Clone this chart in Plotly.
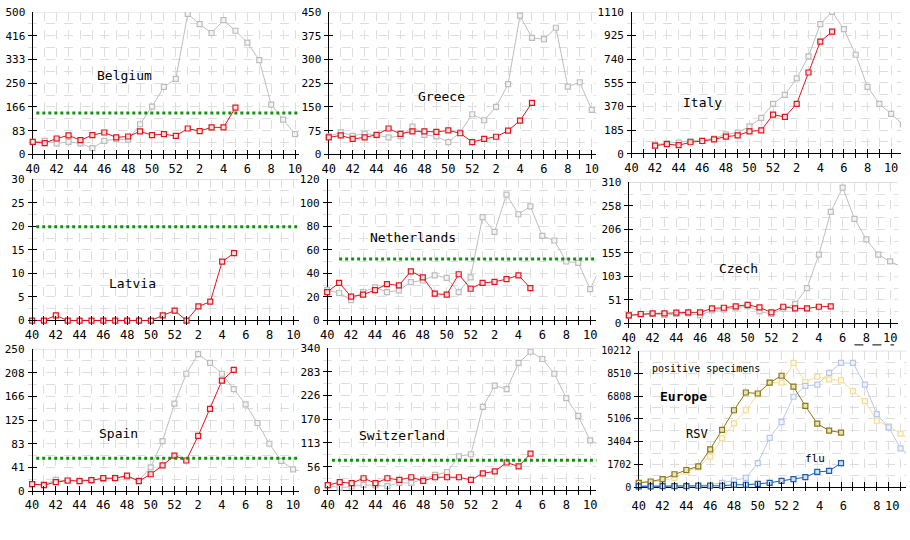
import plotly.graph_objects as go

W, H = 910, 540
MONO = "DejaVu Sans Mono"

# weeks 40..52 then 1..10 (index 0..22), previous season runs one week further
weeks = list(range(40, 53)) + list(range(1, 11))
x_labels = [str(w) if w % 2 == 0 else "" for w in weeks]
# the Europe panel prints its labels slightly off the week ticks
europe_x_labels = ["40", "42", "44", "46", "48", "50", "52", "2", "4", "6", "8", "10"]
europe_x_pos = [0, 2, 4, 6, 8, 10, 12, 13.2, 15.2, 17.2, 20, 21.3]

belgium_prev = [44, 48, 39, 44, 39, 22, 48, 54, 52, 106, 168, 237, 265, 493, 457, 426,
                471, 434, 392, 331, 175, 122, 71, 54]
belgium_cur = [44, 40, 56, 67, 50, 68, 77, 60, 63, 81, 68, 71, 65, 91, 82, 95, 95, 164]
belgium_thr = 145
belgium_ticks = ["0", "83", "166", "250", "333", "416", "500"]

greece_prev = [57, 70, 59, 66, 61, 54, 58, 88, 62, 57, 39, 70, 127, 108, 150, 222, 438,
               368, 364, 400, 214, 228, 141, 111]
greece_cur = [54, 60, 49, 54, 62, 82, 65, 73, 73, 71, 76, 67, 39, 49, 56, 75, 107, 163]
greece_ticks = ["0", "75", "150", "225", "300", "375", "450"]

italy_prev = [None, None, 72, 82, 88, 100, 106, 119, 152, 165, 214, 281, 391, 461, 590,
              762, 1015, 1110, 976, 775, 523, 391, 312, 229]
italy_cur = [None, None, 64, 75, 67, 90, 100, 113, 134, 144, 175, 183, 307, 288, 391,
             636, 878, 955]
italy_ticks = ["0", "185", "370", "555", "740", "925", "1110"]

latvia_cur = [0, 0, 1.1, 0, 0, 0, 0, 0, 0, 0, 0, 1.1, 2.1, 0, 3.0, 4.0, 12.5, 14.3]
latvia_thr = 19.9
latvia_ticks = ["0", "5", "10", "15", "20", "25", "30"]

netherlands_prev = [25.9, 23.4, 17.3, 24.2, 28.1, 24.2, 25.6, 32.6, 34, 38.4, 36.2, 24.2,
                    36.7, 87.7, 75.2, 106.9, 90.2, 96.9, 71.8, 67.9, 50.1, 49, 26.7, 48]
netherlands_cur = [24.2, 32, 20.3, 22, 25.9, 30.9, 29.8, 41.8, 36.7, 22.8, 22, 39.3, 27,
                   32, 32.9, 35.1, 38.4, 27.6]
netherlands_thr = 52.3
netherlands_ticks = ["0", "20", "40", "60", "80", "100", "120"]

czech_prev = [18, 19.5, 20.9, 18.7, 20.9, 22.4, 18, 28.8, 31, 34.6, 38.2, 26.7, 20.9,
              32.4, 43.3, 77.9, 151.4, 245.1, 298.5, 230, 184.6, 151.4, 136.3, 124]
czech_cur = [18, 20.9, 22.4, 22.4, 23.8, 24.5, 24.5, 33.2, 34.6, 37.5, 41.1, 35.3, 24.5,
             36.8, 33.2, 33.2, 36.8, 37.5]
czech_ticks = ["0", "51", "103", "155", "206", "258", "310"]

spain_prev = [12.2, 11.6, 19.7, 17.9, 18.5, 18.5, 20.8, 23.1, 24.3, 18.5, 41.7, 88,
              153.9, 206.6, 241.3, 225.7, 206.6, 179.4, 152.8, 119.8, 83.3, 53.2, 38.2, 33]
spain_cur = [12.2, 10.4, 15.6, 18.5, 17.4, 19.1, 22.6, 22.6, 27.2, 17.4, 29.5, 45.1,
             62.5, 53.8, 97.2, 144.7, 194.4, 213.5]
spain_thr = 57.9
spain_ticks = ["0", "41", "83", "125", "166", "208", "250"]

switz_prev = [11.8, 6.3, 9.4, 13.3, 11.8, 10.2, 18.1, 18.1, 26.7, 36.9, 44, 81.7, 86.4,
              199.5, 250.5, 241.9, 304.7, 331.4, 314.1, 278.8, 220.7, 178.3, 119.4, 106]
switz_cur = [12.6, 19.6, 17.3, 29.1, 17.3, 29.1, 25.1, 31.4, 22.8, 31.4, 31.4, 31.4,
             25.1, 40.8, 45.5, 66.7, 57.3, 87.9]
switz_thr = 72.2
switz_ticks = ["0", "56", "113", "170", "226", "283", "340"]

rsv_prev = [320, 369, 468, 689, 1157, 1476, 2288, 3642, 4774, 5758, 6939, 7825, 7825,
            9301, 7874, 8268, 8071, 7997, 7185, 6447, 4970, 4552, 4011, 3445]
rsv_cur = [320, 418, 591, 960, 1280, 1550, 2830, 4281, 5758, 7087, 7013, 7825, 8342,
           7530, 6078, 4749, 4232, 4085]
flu_prev = [98, 98, 98, 98, 98, 123, 172, 320, 492, 689, 1796, 3691, 4872, 6767, 7579,
            7677, 8563, 9301, 9301, 7677, 5463, 4478, 2904, 2200]
flu_cur = [49, 49, 74, 74, 74, 98, 98, 98, 172, 172, 246, 320, 468, 591, 738, 1132,
           1206, 1796]
europe_ticks = ["0", "1702", "3404", "5106", "6808", "8510", "10212"]

# styles: (line colour, marker fill)
GRAY = ("#bdbdbd", "#f4f4f4")
RED = ("#e0141e", "#ffe2e2")
OLIVE = ("#8a7816", "#e9e2b8")
YELLOW = ("#f5dc94", "#fffaea")
BLUE = ("#1f5cad", "#d2e0f4")
LBLUE = ("#b7c7ec", "#f1f4fc")

# panel: series list, threshold, threshold start index, y tick labels
panels = [
    ([(belgium_prev, GRAY), (belgium_cur, RED)], belgium_thr, 0.3, belgium_ticks),
    ([(greece_prev, GRAY), (greece_cur, RED)], None, 0, greece_ticks),
    ([(italy_prev, GRAY), (italy_cur, RED)], None, 0, italy_ticks),
    ([(latvia_cur, RED)], latvia_thr, 0.35, latvia_ticks),
    ([(netherlands_prev, GRAY), (netherlands_cur, RED)], netherlands_thr, 1.0,
     netherlands_ticks),
    ([(czech_prev, GRAY), (czech_cur, RED)], None, 0, czech_ticks),
    ([(spain_prev, GRAY), (spain_cur, RED)], spain_thr, 0.35, spain_ticks),
    ([(switz_prev, GRAY), (switz_cur, RED)], switz_thr, 0.35, switz_ticks),
    ([(rsv_prev, YELLOW), (flu_prev, LBLUE), (rsv_cur, OLIVE), (flu_cur, BLUE)], None, 0,
     europe_ticks),
]

# pixel boxes: x of week 40, x of week 10, right edge, top, x-axis line
boxes = [
    (30, 294.3, 298, 6, 150.7),
    (328.3, 593.3, 598, 6, 150.7),
    (633.3, 895, 905, 6, 150),
    (29.3, 292.7, 298, 175.7, 319.3),
    (326.7, 591.7, 598, 175.7, 319.3),
    (630.7, 894, 901.7, 179, 322.3),
    (29.3, 292.3, 298, 348.3, 492.3),
    (327.3, 591.7, 598, 347.3, 491.7),
    (640.7, 904.5, 910, 350, 488.3),
]

PAD = 4.5  # ticks cross the axis lines
fig = go.Figure()
shapes = []
xfont = dict(family=MONO, size=12, color="black")

for k, ((series, thr, thr_start, yticks), (x0, x22, xr, ytop, ybot)) in enumerate(
        zip(panels, boxes), start=1):
    sfx = "" if k == 1 else str(k)
    s = (x22 - x0) / 22
    top = float(yticks[-1])
    u = (ybot - ytop) / top
    europe = k == 9

    for vals, (lc, fc) in series:
        fig.add_trace(go.Scatter(
            x=list(range(len(vals))), y=vals,
            mode="lines+markers",
            line=dict(color=lc, width=1),
            marker=dict(symbol="square", size=5, color=fc, line=dict(color=lc, width=1.2)),
            xaxis="x" + sfx, yaxis="y" + sfx,
            showlegend=False, hoverinfo="skip",
        ))

    xdomain = [(x0 - PAD) / W, xr / W]
    xrange_ = [-PAD / s, (xr - x0) / s]
    fig.layout["xaxis" + sfx] = dict(
        domain=xdomain, range=xrange_,
        tickmode="array", tickvals=list(range(23)), ticktext=x_labels, tickangle=0,
        showticklabels=not europe,
        ticks="inside", ticklen=9, tickwidth=1, tickcolor="black",
        showline=False, zeroline=True, zerolinecolor="black", zerolinewidth=1,
        showgrid=True, gridcolor="#dddddd", griddash="dash", gridwidth=1,
        tickfont=xfont, ticklabeloverflow="allow",
        ticklabelstandoff=1, anchor="y" + sfx, fixedrange=True,
    )
    fig.layout["yaxis" + sfx] = dict(
        domain=[1 - (ybot + PAD) / H, 1 - ytop / H],
        range=[-PAD / u, top],
        tickmode="array", tickvals=[top * i / 6 for i in range(7)], ticktext=yticks,
        ticks="inside", ticklen=9, tickwidth=1, tickcolor="black",
        showline=False, zeroline=True, zerolinecolor="black", zerolinewidth=1,
        showgrid=True, gridcolor="#dddddd", griddash="dash", gridwidth=1,
        minor=dict(tickmode="linear", tick0=0, dtick=top / 12, showgrid=True,
                   gridcolor="#dddddd", griddash="dash", ticks=""),
        tickfont=dict(family=MONO, size=10 if europe else 11, color="black"),
        ticklabelstandoff=2, anchor="x" + sfx, fixedrange=True,
    )

    if europe:
        # label-only axis laid over the Europe panel
        fig.add_trace(go.Scatter(x=[], y=[], xaxis="x10", yaxis="y" + sfx,
                                 showlegend=False, hoverinfo="skip"))
        fig.layout["xaxis10"] = dict(
            domain=xdomain, range=xrange_, overlaying="x" + sfx, anchor="y" + sfx,
            tickmode="array", tickvals=europe_x_pos, ticktext=europe_x_labels,
            tickangle=0, ticks="", showgrid=False, zeroline=False, showline=False,
            tickfont=xfont, ticklabeloverflow="allow", ticklabelstandoff=6,
            fixedrange=True,
        )

    span = xr - x0 + PAD
    # light top border
    shapes.append(dict(type="line", xref="x%s domain" % sfx, yref="y" + sfx,
                       x0=PAD / span, x1=1, y0=top, y1=top,
                       line=dict(color="#cccccc", width=1), layer="below"))
    if thr is not None:
        shapes.append(dict(type="line", xref="x%s domain" % sfx, yref="y" + sfx,
                           x0=(PAD + thr_start * s) / span, x1=1, y0=thr, y1=thr,
                           line=dict(color="#139013", width=3, dash="dot")))

# stray dashed mark under the Czech axis
shapes.append(dict(type="line", xref="paper", yref="paper", x0=858 / W, x1=898 / W,
                   y0=1 - 344 / H, y1=1 - 344 / H,
                   line=dict(color="black", width=1, dash="dash")))

labels = [
    ("Belgium", 122, 71, 13, False),
    ("Greece", 442, 92, 13, False),
    ("Italy", 705, 98, 13, False),
    ("Latvia", 130, 282, 13, False),
    ("Netherlands", 413, 235, 13, False),
    ("Czech", 741, 266, 13, False),
    ("Spain", 116, 434, 13, False),
    ("Switzerland", 402, 436, 13, False),
    ("positive specimens", 708, 368, 10, False),
    ("Europe", 686, 396, 13, True),
    ("RSV", 699, 434, 12, False),
    ("flu", 818, 459, 11, False),
]
annotations = [
    dict(text="<b>%s</b>" % t if b else t, x=px / W, y=1 - py / H,
         xref="paper", yref="paper", xanchor="center", yanchor="middle",
         showarrow=False, font=dict(family=MONO, size=sz, color="black"))
    for t, px, py, sz, b in labels
]

fig.update_layout(
    width=W, height=H,
    margin=dict(l=0, r=0, t=0, b=0),
    paper_bgcolor="white", plot_bgcolor="white",
    showlegend=False,
    shapes=shapes,
    annotations=annotations,
)

fig.write_html("out.html", config={"displayModeBar": False},
               post_script="document.body.style.margin='0';"
                           "document.body.style.overflow='hidden';")
